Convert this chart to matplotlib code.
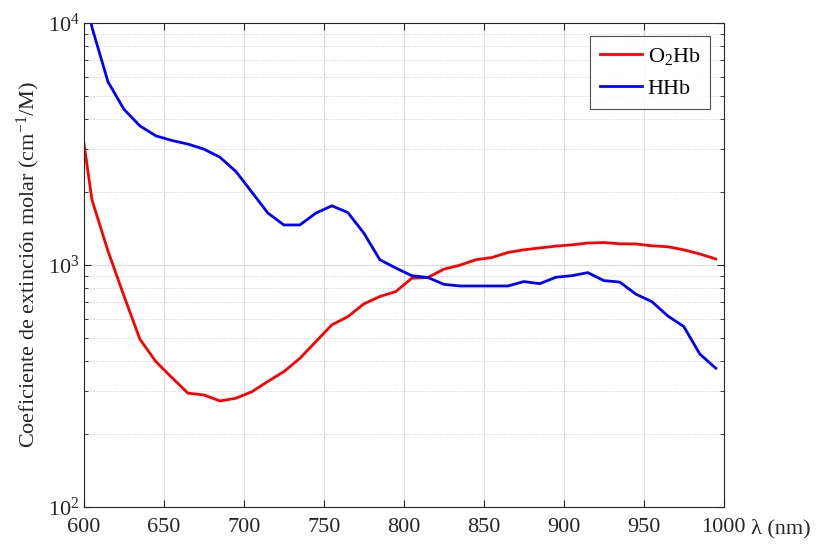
import numpy as np
import matplotlib
matplotlib.use("Agg")
import matplotlib.pyplot as plt
from matplotlib.ticker import LogLocator, NullFormatter, FixedLocator

plt.rcParams['font.family'] = ['Liberation Serif', 'DejaVu Serif']
plt.rcParams['mathtext.fontset'] = 'custom'
plt.rcParams['mathtext.rm'] = 'Liberation Serif'
plt.rcParams['mathtext.it'] = 'Liberation Serif:italic'

# Molar extinction coefficients (cm^-1/M)
wavelength = [600, 605, 615, 625, 635, 645, 655, 665, 675, 685, 695,
              705, 715, 725, 735, 745, 755, 765, 775, 785, 795,
              805, 815, 825, 835, 845, 855, 865, 875, 885, 895,
              905, 915, 925, 935, 945, 955, 965, 975, 985, 995]
o2hb = [3184, 1858, 1143, 745, 493, 398, 342, 295, 290, 274, 281,
        299, 330, 362, 411, 482, 565, 611, 690, 740, 776,
        881, 887, 960, 997, 1050, 1072, 1125, 1154, 1175, 1195,
        1210, 1231, 1237, 1222, 1220, 1199, 1188, 1154, 1109, 1058]
hhb = [14600, 9600, 5716, 4396, 3753, 3413, 3266, 3157, 3008, 2786, 2432,
       1997, 1637, 1462, 1462, 1637, 1754, 1645, 1352, 1050, 970,
       902, 887, 831, 818, 818, 818, 818, 853, 836, 889,
       902, 929, 861, 849, 757, 705, 615, 556, 428, 374]

fig = plt.figure(figsize=(8.31, 5.45), dpi=100)
ax = fig.add_axes([0.101, 0.07, 0.77, 0.888])

ax.plot(wavelength, o2hb, color='#ff0000', lw=2.0, label='O$_2$Hb')
ax.plot(wavelength, hhb, color='#0000ff', lw=2.0, label='HHb')

ax.set_yscale('log')
ax.set_xlim(600, 1000)
ax.set_ylim(1e2, 1e4)
ax.xaxis.set_major_locator(FixedLocator(np.arange(600, 1001, 50)))
ax.yaxis.set_major_locator(LogLocator(base=10))
ax.yaxis.set_minor_locator(LogLocator(base=10, subs=np.arange(2, 10)))
ax.yaxis.set_minor_formatter(NullFormatter())

edge = '#262626'
for s in ax.spines.values():
    s.set_color(edge)
    s.set_linewidth(0.8)
ax.tick_params(which='both', direction='in', top=True, right=True,
               colors=edge, labelcolor='#262626', labelsize=16)
ax.tick_params(which='major', length=5)
ax.tick_params(which='minor', length=3)
ax.tick_params(axis='x', pad=8)
ax.tick_params(axis='y', pad=3)

ax.grid(which='major', color='#dcdcdc', lw=0.8)
ax.grid(which='minor', axis='y', color='#d8d8d8', lw=0.7, linestyle=(0, (1.5, 1.5)))
ax.set_axisbelow(True)

ax.set_ylabel('Coeficiente de extinción molar (cm$^{-1}$/M)', fontsize=16, color='#262626')
ax.text(1.042, -0.045, 'λ (nm)', transform=ax.transAxes, fontsize=16,
        color='#262626', ha='left', va='center')

leg = ax.legend(loc='upper right', fontsize=16, frameon=True, fancybox=False,
                handlelength=1.9, borderaxespad=0.6, borderpad=0.45,
                labelspacing=0.5, handletextpad=0.25)
leg.get_frame().set_edgecolor(edge)
leg.get_frame().set_linewidth(0.8)

fig.savefig('out.png', dpi=100)
